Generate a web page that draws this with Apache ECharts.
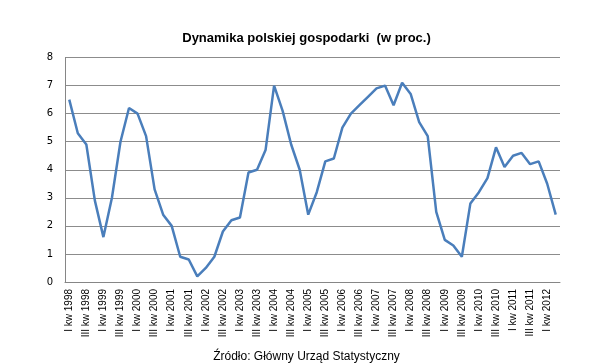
<!DOCTYPE html>
<html>
<head>
<meta charset="utf-8">
<script src="https://cdn.jsdelivr.net/npm/echarts@6/dist/echarts.min.js"></script>
<style>
html,body{margin:0;padding:0;background:#fff;}
#c{width:613px;height:364px;}
</style>
</head>
<body>
<div id="c"></div>
<script>
var years = [1998,1999,2000,2001,2002,2003,2004,2005,2006,2007,2008,2009,2010,2011,2012];
var quarterNames = ['I','II','III','IV'];
var values = [
  6.5, 5.3, 4.9, 2.9,
  1.6, 3.0, 5.0, 6.2,
  6.0, 5.2, 3.3, 2.4,
  2.0, 0.9, 0.8, 0.2,
  0.5, 0.9, 1.8, 2.2,
  2.3, 3.9, 4.0, 4.7,
  7.0, 6.1, 4.9, 4.0,
  2.4, 3.2, 4.3, 4.4,
  5.5, 6.0, 6.3, 6.6,
  6.9, 7.0, 6.3, 7.1,
  6.7, 5.7, 5.2, 2.5,
  1.5, 1.3, 0.9, 2.8,
  3.2, 3.7, 4.8, 4.1,
  4.5, 4.6, 4.2, 4.3,
  3.5, 2.4
];
var categories = [];
for (var i = 0; i < values.length; i++) {
  categories.push(quarterNames[i % 4] + ' kw ' + years[Math.floor(i / 4)]);
}
var titleText = 'Dynamika polskiej gospodarki  (w proc.)';
var sourceText = 'Źródło: Główny Urząd Statystyczny';

var chart = echarts.init(document.getElementById('c'), null, {renderer: 'canvas'});
chart.setOption({
  animation: false,
  backgroundColor: '#fff',
  title: [{
    text: titleText,
    left: 'center',
    top: 27,
    textStyle: {fontFamily: 'Liberation Sans, Arial', fontSize: 13, fontWeight: 'bold', color: '#000'}
  }, {
    text: sourceText,
    left: 'center',
    top: 346,
    textStyle: {fontFamily: 'Liberation Sans, Arial', fontSize: 12, fontWeight: 'normal', color: '#000'}
  }],
  grid: {left: 65, right: 53, top: 57.5, bottom: 82, containLabel: false},
  xAxis: {
    type: 'category',
    data: categories,
    boundaryGap: true,
    axisLine: {show: true, lineStyle: {color: '#868686', width: 1}},
    axisTick: {show: false},
    axisLabel: {
      interval: 1,
      rotate: 90,
      margin: 7,
      fontFamily: 'Liberation Sans, Arial',
      fontSize: 10,
      color: '#000'
    },
    splitLine: {show: false}
  },
  yAxis: {
    type: 'value',
    min: 0,
    max: 8,
    interval: 1,
    axisLine: {show: true, lineStyle: {color: '#868686', width: 1}},
    axisTick: {show: false},
    axisLabel: {
      margin: 12,
      fontFamily: 'DejaVu Sans, Verdana',
      fontSize: 10,
      color: '#000'
    },
    splitLine: {show: true, lineStyle: {color: '#8c8c8c', width: 1}}
  },
  series: [{
    type: 'line',
    data: values,
    symbol: 'none',
    smooth: false,
    lineStyle: {color: '#4a7ebb', width: 2.5},
    itemStyle: {color: '#4a7ebb'}
  }]
});
</script>
</body>
</html>
